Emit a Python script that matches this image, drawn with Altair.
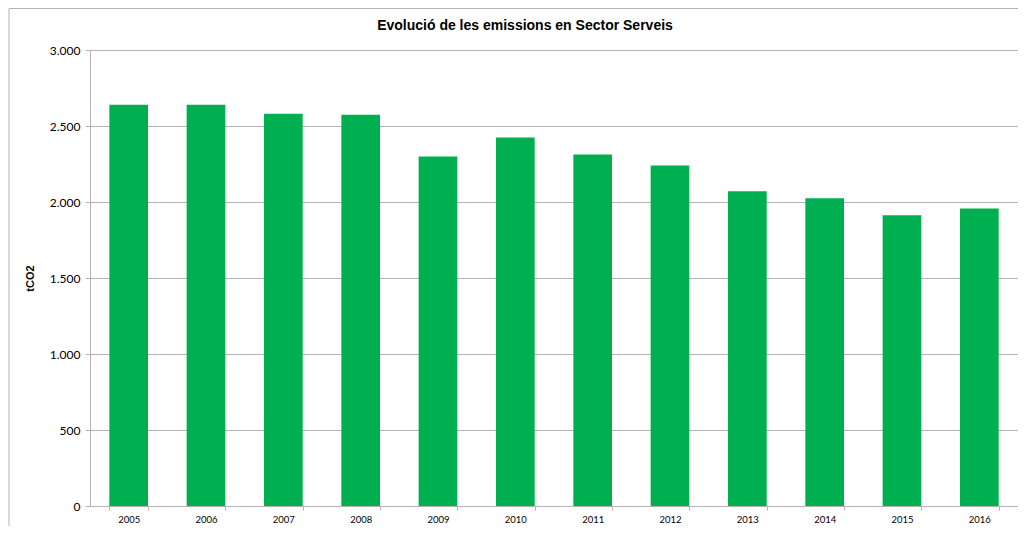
import altair as alt
import pandas as pd

years = ["2005", "2006", "2007", "2008", "2009", "2010", "2011", "2012", "2013", "2014", "2015", "2016"]
emissions = [2640, 2640, 2581, 2574, 2299, 2424, 2312, 2240, 2070, 2024, 1913, 1958]
title_text = "Evolució de les emissions en Sector Serveis"

df = pd.DataFrame({"year": years, "value": emissions})

GRID = "#b3b3b3"

bars = alt.Chart(df).mark_bar(color="#00B050").encode(
    x=alt.X(
        "year:N",
        sort=years,
        title=None,
        scale=alt.Scale(paddingInner=0.5, paddingOuter=0.25),
        axis=alt.Axis(
            labelAngle=0,
            labelFont="Lato",
            labelFontSize=9.5,
            labelColor="#000000",
            labelPadding=4,
            tickBand="extent",
            tickSize=4,
            tickColor=GRID,
            domainColor=GRID,
            grid=False,
        ),
    ),
    y=alt.Y(
        "value:Q",
        title="tCO2",
        scale=alt.Scale(domain=[0, 3000], nice=False),
        axis=alt.Axis(
            values=[0, 500, 1000, 1500, 2000, 2500, 3000],
            labelExpr="replace(format(datum.value, ','), ',', '.')",
            labelFont="Lato",
            labelFontSize=12,
            labelColor="#000000",
            labelPadding=5,
            tickSize=5,
            tickColor=GRID,
            domainColor=GRID,
            gridColor=GRID,
            gridWidth=1,
            titleFont="Liberation Sans",
            titleFontSize=11,
            titleFontWeight="bold",
            titleColor="#000000",
            titleX=-55,
            titleY=228,
            titleAngle=-90,
            titleAlign="center",
        ),
    ),
)

title = alt.Chart(pd.DataFrame({"t": [title_text]})).mark_text(
    font="Liberation Sans",
    fontSize=14,
    fontWeight="bold",
    color="#000000",
    align="center",
    baseline="middle",
).encode(x=alt.value(435), y=alt.value(-24), text="t:N")

border_left = alt.Chart(pd.DataFrame({"a": [0]})).mark_rule(color="#b3b3b3", strokeWidth=1).encode(
    x=alt.value(-81), y=alt.value(-41.5), y2=alt.value(520)
)
border_top = alt.Chart(pd.DataFrame({"a": [0]})).mark_rule(color="#b3b3b3", strokeWidth=1).encode(
    x=alt.value(-81), x2=alt.value(930), y=alt.value(-41.5)
)

chart = (
    alt.layer(border_left, border_top, bars, title)
    .properties(
        width=928,
        height=456,
        padding={"left": 82, "top": 42, "right": 0, "bottom": 20},
        autosize=alt.AutoSizeParams(type="none"),
    )
    .configure_view(stroke=None)
)

chart.save("out.html", embed_options={"renderer": "svg", "actions": False})
